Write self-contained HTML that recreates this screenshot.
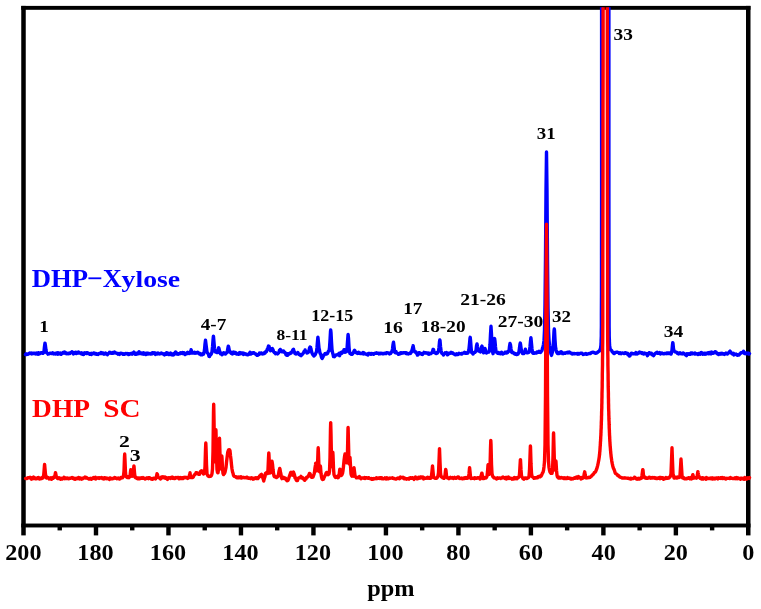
<!DOCTYPE html>
<html><head><meta charset="utf-8"><style>
html,body{margin:0;padding:0;background:#fff;width:761px;height:609px;overflow:hidden}
svg{display:block}
text{font-family:"Liberation Serif",serif;font-weight:bold}
</style></head><body>
<svg width="761" height="609" viewBox="0 0 761 609">
<defs><clipPath id="pa"><rect x="0" y="7.2" width="761" height="530"/></clipPath></defs>
<rect width="761" height="609" fill="#fff"/>
<rect x="21.25" y="5.90" width="729.25" height="3.90" fill="#000"/>
<rect x="21.25" y="523.55" width="729.25" height="3.90" fill="#000"/>
<rect x="21.25" y="5.90" width="4.50" height="529.50" fill="#000"/>
<rect x="746.00" y="5.90" width="4.50" height="529.50" fill="#000"/>
<rect x="57.54" y="525.50" width="4.40" height="4.90" fill="#000"/>
<rect x="93.79" y="525.50" width="4.40" height="9.90" fill="#000"/>
<rect x="130.03" y="525.50" width="4.40" height="4.90" fill="#000"/>
<rect x="166.27" y="525.50" width="4.40" height="9.90" fill="#000"/>
<rect x="202.52" y="525.50" width="4.40" height="4.90" fill="#000"/>
<rect x="238.76" y="525.50" width="4.40" height="9.90" fill="#000"/>
<rect x="275.00" y="525.50" width="4.40" height="4.90" fill="#000"/>
<rect x="311.24" y="525.50" width="4.40" height="9.90" fill="#000"/>
<rect x="347.49" y="525.50" width="4.40" height="4.90" fill="#000"/>
<rect x="383.73" y="525.50" width="4.40" height="9.90" fill="#000"/>
<rect x="419.97" y="525.50" width="4.40" height="4.90" fill="#000"/>
<rect x="456.22" y="525.50" width="4.40" height="9.90" fill="#000"/>
<rect x="492.46" y="525.50" width="4.40" height="4.90" fill="#000"/>
<rect x="528.70" y="525.50" width="4.40" height="9.90" fill="#000"/>
<rect x="564.94" y="525.50" width="4.40" height="4.90" fill="#000"/>
<rect x="601.19" y="525.50" width="4.40" height="9.90" fill="#000"/>
<rect x="637.43" y="525.50" width="4.40" height="4.90" fill="#000"/>
<rect x="673.67" y="525.50" width="4.40" height="9.90" fill="#000"/>
<rect x="709.92" y="525.50" width="4.40" height="4.90" fill="#000"/>
<g clip-path="url(#pa)" fill="none" stroke-linejoin="round" stroke-linecap="round">
<path d="M25.5 354.5L26.0 353.8L26.5 354.5L27.0 354.1L27.5 354.4L28.0 354.2L28.5 353.7L29.0 353.6L29.5 353.1L30.0 353.5L30.5 353.4L31.0 353.0L31.5 353.1L32.0 353.9L32.5 353.2L33.0 353.6L33.5 353.3L34.0 353.1L34.5 353.2L35.0 353.7L35.5 353.9L36.0 354.0L36.5 353.1L37.0 353.3L37.5 353.4L38.0 354.2L38.5 352.7L39.0 354.0L39.5 353.7L40.0 353.6L40.5 352.8L41.0 352.7L41.5 352.7L42.0 352.7L42.5 353.2L43.0 353.4L43.5 352.9L44.0 351.1L44.5 346.5L45.0 343.1L45.5 346.1L46.0 350.1L46.5 352.6L47.0 353.1L47.5 353.3L48.0 354.1L48.5 353.8L49.0 353.9L49.5 353.5L50.0 353.2L50.5 353.1L51.0 353.1L51.5 353.6L52.0 353.4L52.5 352.9L53.0 353.6L53.5 353.2L54.0 353.9L54.5 353.4L55.0 353.4L55.5 354.1L56.0 353.8L56.5 353.0L57.0 353.8L57.5 354.2L58.0 352.8L58.5 354.1L59.0 353.1L59.5 353.2L60.0 353.5L60.5 353.1L61.0 354.3L61.5 354.1L62.0 353.4L62.5 353.3L63.0 352.6L63.5 352.8L64.0 353.2L64.5 352.0L65.0 352.4L65.5 352.6L66.0 353.2L66.5 353.7L67.0 353.3L67.5 353.5L68.0 353.8L68.5 353.3L69.0 353.1L69.5 353.5L70.0 353.5L70.5 352.8L71.0 352.4L71.5 352.5L72.0 351.7L72.5 352.6L73.0 352.4L73.5 353.9L74.0 353.3L74.5 353.1L75.0 353.1L75.5 352.2L76.0 353.4L76.5 353.6L77.0 352.5L77.5 353.0L78.0 353.0L78.5 352.0L79.0 352.9L79.5 353.1L80.0 352.9L80.5 353.0L81.0 353.6L81.5 352.9L82.0 353.7L82.5 354.2L83.0 353.4L83.5 354.5L84.0 353.7L84.5 352.9L85.0 353.5L85.5 353.0L86.0 353.4L86.5 352.7L87.0 353.5L87.5 352.7L88.0 353.3L88.5 353.1L89.0 353.4L89.5 354.2L90.0 353.9L90.5 353.7L91.0 353.4L91.5 354.4L92.0 354.1L92.5 353.5L93.0 353.6L93.5 352.9L94.0 353.0L94.5 353.2L95.0 353.9L95.5 354.0L96.0 353.6L96.5 354.3L97.0 354.4L97.5 354.2L98.0 354.4L98.5 353.7L99.0 353.5L99.5 353.6L100.0 353.3L100.5 353.5L101.0 352.6L101.5 353.5L102.0 352.8L102.5 353.3L103.0 353.0L103.5 354.0L104.0 354.2L104.5 354.1L105.0 354.0L105.5 353.0L106.0 353.5L106.5 353.7L107.0 353.7L107.5 354.7L108.0 353.9L108.5 353.4L109.0 353.2L109.5 352.3L110.0 352.4L110.5 352.5L111.0 353.2L111.5 353.2L112.0 353.3L112.5 353.4L113.0 352.4L113.5 352.7L114.0 352.9L114.5 352.1L115.0 352.3L115.5 352.8L116.0 353.1L116.5 353.4L117.0 353.3L117.5 353.5L118.0 354.1L118.5 353.6L119.0 353.9L119.5 354.4L120.0 353.5L120.5 353.2L121.0 353.2L121.5 353.3L122.0 353.6L122.5 353.8L123.0 354.3L123.5 353.8L124.0 354.0L124.5 354.3L125.0 353.8L125.5 353.5L126.0 353.5L126.5 353.6L127.0 353.9L127.5 353.5L128.0 354.0L128.5 354.5L129.0 353.7L129.5 354.3L130.0 354.0L130.5 353.5L131.0 353.9L131.5 353.7L132.0 354.1L132.5 352.9L133.0 353.5L133.5 352.9L134.0 352.1L134.5 353.6L135.0 354.2L135.5 353.6L136.0 354.3L136.5 353.2L137.0 354.0L137.5 353.2L138.0 353.7L138.5 352.4L139.0 351.7L139.5 352.5L140.0 353.6L140.5 352.8L141.0 353.7L141.5 353.8L142.0 353.5L142.5 353.8L143.0 354.1L143.5 352.8L144.0 353.7L144.5 353.8L145.0 353.3L145.5 354.6L146.0 354.6L146.5 353.2L147.0 354.1L147.5 353.2L148.0 353.2L148.5 353.9L149.0 353.5L149.5 353.6L150.0 354.1L150.5 354.1L151.0 354.0L151.5 353.2L152.0 352.9L152.5 353.8L153.0 352.8L153.5 353.0L154.0 352.7L154.5 353.3L155.0 353.1L155.5 354.5L156.0 353.4L156.5 353.6L157.0 353.5L157.5 353.9L158.0 353.0L158.5 353.6L159.0 353.6L159.5 354.0L160.0 353.8L160.5 353.3L161.0 353.4L161.5 353.0L162.0 353.6L162.5 353.6L163.0 353.7L163.5 354.2L164.0 354.3L164.5 354.9L165.0 353.8L165.5 354.0L166.0 354.3L166.5 352.8L167.0 352.8L167.5 352.9L168.0 353.5L168.5 354.6L169.0 353.9L169.5 354.4L170.0 353.9L170.5 353.1L171.0 353.3L171.5 354.7L172.0 354.5L172.5 354.0L173.0 355.0L173.5 354.0L174.0 354.6L174.5 354.1L175.0 352.7L175.5 352.0L176.0 353.2L176.5 352.8L177.0 354.0L177.5 353.6L178.0 354.3L178.5 354.0L179.0 353.7L179.5 353.4L180.0 353.8L180.5 352.8L181.0 353.4L181.5 353.3L182.0 353.5L182.5 352.6L183.0 353.6L183.5 352.7L184.0 352.7L184.5 354.1L185.0 354.6L185.5 354.2L186.0 353.5L186.5 353.4L187.0 352.7L187.5 352.4L188.0 353.5L188.5 353.2L189.0 353.3L189.5 353.5L190.0 352.8L190.5 351.7L191.0 350.2L191.1 349.7L191.5 350.9L192.0 353.1L192.5 352.9L193.0 352.5L193.5 353.0L194.0 352.5L194.5 352.3L195.0 353.2L195.5 352.8L196.0 352.8L196.5 353.0L197.0 352.7L197.5 352.2L198.0 352.6L198.5 352.8L199.0 353.8L199.5 353.2L200.0 353.5L200.5 354.7L201.0 353.9L201.5 354.8L202.0 354.8L202.5 354.2L203.0 353.6L203.5 354.2L204.0 352.8L204.5 349.8L205.0 344.0L205.5 340.2L206.0 344.1L206.5 348.3L207.0 352.0L207.5 352.8L208.0 353.4L208.5 354.4L209.0 356.3L209.5 356.5L210.0 355.1L210.5 355.2L211.0 354.4L211.5 353.6L212.0 351.6L212.5 346.9L213.0 340.5L213.4 336.1L213.5 336.6L214.0 342.5L214.5 348.4L215.0 351.5L215.5 352.0L216.0 352.1L216.5 352.2L217.0 352.5L217.5 352.6L218.0 350.5L218.5 348.4L218.7 347.8L219.0 348.5L219.5 351.0L220.0 351.7L220.5 353.8L221.0 353.2L221.5 353.7L222.0 354.7L222.3 354.3L222.5 354.2L223.0 353.6L223.5 352.8L224.0 353.4L224.5 353.8L225.0 353.1L225.5 354.1L226.0 352.9L226.5 352.8L227.0 352.6L227.5 350.4L228.0 347.6L228.3 346.1L228.5 346.4L229.0 348.9L229.5 351.3L230.0 352.3L230.5 352.4L231.0 353.2L231.5 352.9L232.0 352.2L232.5 353.9L233.0 352.4L233.5 352.1L234.0 353.2L234.5 353.3L235.0 352.5L235.5 352.5L236.0 353.0L236.5 354.1L237.0 353.8L237.5 353.9L238.0 354.0L238.5 354.3L239.0 353.0L239.5 353.2L240.0 352.6L240.5 353.8L241.0 353.5L241.5 352.9L242.0 352.9L242.5 353.7L243.0 353.0L243.5 354.4L244.0 353.7L244.5 353.5L245.0 353.7L245.5 353.7L246.0 354.3L246.5 354.6L247.0 354.7L247.5 354.5L248.0 354.8L248.5 354.1L249.0 354.3L249.5 353.1L250.0 352.3L250.5 353.1L251.0 354.1L251.5 353.3L252.0 352.9L252.5 353.2L253.0 352.9L253.5 352.7L254.0 352.7L254.5 353.4L255.0 353.9L255.5 354.0L256.0 354.0L256.5 354.8L257.0 355.3L257.5 355.3L258.0 354.7L258.5 354.2L259.0 354.5L259.5 353.0L260.0 353.3L260.5 353.7L261.0 352.9L261.5 353.0L262.0 353.5L262.5 354.0L263.0 353.6L263.5 353.8L264.0 353.4L264.5 352.6L265.0 353.1L265.5 352.2L266.0 351.4L266.5 351.5L267.0 349.9L267.5 348.8L268.0 347.5L268.5 346.1L268.6 346.8L269.0 346.2L269.5 348.2L270.0 349.7L270.5 350.7L271.0 350.4L271.5 349.4L272.0 348.6L272.3 348.5L272.5 349.2L273.0 349.6L273.5 351.5L274.0 352.1L274.5 352.8L275.0 352.8L275.5 353.8L276.0 352.9L276.5 353.5L277.0 353.6L277.5 353.9L278.0 353.5L278.5 352.9L279.0 352.3L279.5 350.2L280.0 350.1L280.3 349.4L280.5 350.1L281.0 350.4L281.5 351.4L282.0 351.7L282.5 351.7L283.0 350.9L283.5 350.9L284.0 352.2L284.5 352.1L285.0 352.3L285.5 353.6L285.8 354.0L286.0 354.7L286.5 355.1L287.0 353.7L287.5 355.3L288.0 354.5L288.5 353.8L289.0 353.4L289.5 353.9L290.0 353.1L290.5 352.9L291.0 353.1L291.5 352.2L292.0 352.1L292.5 350.6L293.0 349.7L293.2 349.6L293.5 349.3L294.0 351.5L294.5 351.9L295.0 353.6L295.5 353.1L296.0 354.0L296.5 353.4L297.0 353.5L297.5 353.0L297.8 352.4L298.0 352.9L298.5 353.7L299.0 354.4L299.5 354.1L300.0 354.4L300.5 355.3L301.0 355.7L301.5 355.1L302.0 354.2L302.5 354.1L303.0 353.5L303.5 352.8L304.0 351.5L304.5 351.1L305.0 350.5L305.1 350.0L305.5 351.1L306.0 351.5L306.5 351.8L307.0 353.0L307.5 352.8L308.0 352.5L308.5 352.0L309.0 350.5L309.5 348.0L310.0 347.1L310.2 347.5L310.5 347.2L311.0 349.3L311.5 351.2L312.0 353.0L312.5 354.1L313.0 354.9L313.5 355.3L313.9 356.1L314.0 355.9L314.5 355.2L315.0 355.0L315.5 354.0L316.0 352.6L316.5 351.8L317.0 347.4L317.5 341.2L317.9 337.1L318.0 337.9L318.5 342.9L319.0 348.2L319.5 350.2L320.0 353.3L320.5 353.6L321.0 355.3L321.5 357.4L322.0 358.1L322.2 358.5L322.5 357.6L323.0 357.1L323.5 355.5L324.0 355.1L324.5 354.5L325.0 353.7L325.5 353.5L326.0 353.6L326.5 354.1L327.0 353.8L327.5 353.5L328.0 352.1L328.5 351.2L329.0 350.9L329.5 347.8L330.0 340.4L330.5 331.5L330.7 330.0L331.0 332.4L331.5 342.2L332.0 349.5L332.5 352.6L333.0 354.2L333.5 356.6L334.0 356.3L334.5 356.7L335.0 355.8L335.5 355.2L336.0 355.1L336.5 354.9L337.0 354.6L337.5 354.8L338.0 354.7L338.5 353.9L339.0 353.4L339.5 355.7L340.0 354.6L340.5 353.7L341.0 352.5L341.5 352.2L342.0 353.3L342.5 351.7L343.0 352.3L343.5 351.7L344.0 349.8L344.2 349.8L344.5 349.8L345.0 352.4L345.5 351.9L346.0 351.8L346.5 351.6L347.0 349.1L347.5 341.8L348.0 335.4L348.1 334.4L348.5 338.1L349.0 347.1L349.5 351.8L350.0 353.6L350.5 353.6L351.0 353.9L351.3 354.0L351.5 354.4L352.0 354.4L352.5 354.0L353.0 352.8L353.5 352.6L354.0 351.1L354.4 350.4L354.5 350.3L355.0 350.9L355.5 351.9L356.0 352.4L356.5 352.8L357.0 352.7L357.5 353.4L358.0 353.1L358.5 352.3L359.0 353.2L359.5 352.8L360.0 353.5L360.5 353.2L361.0 353.3L361.5 353.6L362.0 353.4L362.5 353.2L363.0 352.5L363.5 353.9L364.0 352.7L364.5 353.4L365.0 353.9L365.5 354.0L366.0 354.1L366.5 354.2L367.0 354.5L367.5 354.1L368.0 355.1L368.5 353.4L369.0 353.8L369.5 353.5L370.0 353.5L370.5 353.8L371.0 354.3L371.5 353.4L372.0 353.4L372.5 353.9L373.0 353.8L373.5 354.3L374.0 353.9L374.5 353.4L375.0 353.1L375.5 353.3L376.0 353.2L376.5 352.7L377.0 353.3L377.5 353.3L378.0 353.2L378.5 353.1L379.0 353.9L379.5 353.4L380.0 353.7L380.5 353.2L381.0 353.2L381.5 353.6L382.0 353.7L382.5 353.4L383.0 353.4L383.5 353.8L384.0 353.7L384.5 353.2L385.0 353.6L385.5 353.5L386.0 353.6L386.5 352.7L387.0 352.8L387.5 352.8L388.0 352.9L388.5 352.9L389.0 353.3L389.5 353.9L390.0 353.7L390.5 353.5L391.0 352.7L391.5 351.7L392.0 351.9L392.5 349.0L393.0 344.7L393.4 342.5L393.5 342.2L394.0 346.3L394.5 350.4L395.0 352.5L395.5 352.8L396.0 351.6L396.5 352.8L397.0 353.1L397.5 353.5L398.0 353.4L398.5 354.3L399.0 354.0L399.5 354.1L400.0 353.8L400.5 352.8L401.0 353.5L401.5 353.3L402.0 352.8L402.5 353.1L403.0 353.0L403.5 352.6L404.0 352.7L404.5 352.7L405.0 352.9L405.5 352.7L406.0 353.4L406.5 352.8L407.0 353.8L407.5 353.6L408.0 353.8L408.5 354.0L409.0 353.6L409.5 353.3L410.0 353.1L410.5 353.4L411.0 352.0L411.5 352.2L412.0 350.3L412.5 348.3L413.0 346.1L413.1 345.6L413.5 347.7L414.0 350.6L414.5 351.3L415.0 352.1L415.5 352.0L416.0 352.0L416.5 353.3L417.0 353.6L417.5 355.1L418.0 353.7L418.5 354.2L419.0 352.7L419.5 353.2L420.0 353.0L420.5 353.3L421.0 353.7L421.5 354.1L422.0 354.3L422.5 354.5L423.0 353.6L423.5 353.3L424.0 352.4L424.5 353.0L425.0 353.1L425.5 352.6L426.0 352.8L426.5 352.9L427.0 353.1L427.5 353.5L428.0 353.9L428.5 353.1L429.0 354.2L429.5 353.4L430.0 353.8L430.5 353.5L431.0 353.5L431.5 353.0L432.0 352.5L432.5 351.7L433.0 349.6L433.3 350.5L433.5 349.5L434.0 351.2L434.5 352.6L435.0 353.0L435.5 352.7L436.0 353.5L436.5 353.5L437.0 352.6L437.5 352.9L438.0 351.9L438.5 351.0L439.0 347.4L439.5 341.8L439.8 340.0L440.0 340.4L440.5 346.5L441.0 350.3L441.5 352.4L442.0 353.4L442.5 353.7L443.0 353.8L443.5 355.0L444.0 353.9L444.5 353.5L445.0 352.9L445.5 353.3L446.0 353.1L446.5 352.5L447.0 354.0L447.5 354.8L448.0 354.5L448.5 353.3L449.0 353.3L449.5 353.3L450.0 353.4L450.5 352.9L451.0 352.4L451.5 353.0L452.0 353.2L452.5 352.7L453.0 353.3L453.5 353.8L454.0 353.9L454.5 354.3L455.0 354.6L455.5 354.8L456.0 354.4L456.5 353.8L457.0 354.4L457.5 354.6L458.0 354.6L458.5 353.6L459.0 353.3L459.5 353.7L460.0 353.8L460.5 353.6L461.0 353.9L461.5 353.5L462.0 353.9L462.5 353.1L463.0 353.2L463.5 353.0L464.0 352.9L464.5 352.3L465.0 352.8L465.5 353.3L466.0 353.1L466.5 353.0L467.0 353.3L467.5 353.2L468.0 352.7L468.5 351.0L469.0 349.0L469.5 343.9L470.0 338.2L470.2 337.3L470.5 339.9L471.0 346.3L471.5 352.2L472.0 352.9L472.5 353.4L472.6 353.3L473.0 354.1L473.5 352.6L474.0 352.7L474.5 352.2L475.0 352.2L475.5 351.7L476.0 350.4L476.5 345.9L477.0 343.9L477.5 346.8L478.0 349.3L478.5 351.0L479.0 351.2L479.5 350.7L480.0 351.7L480.5 351.9L481.0 350.0L481.5 346.9L482.0 346.1L482.5 348.2L483.0 351.4L483.5 352.8L484.0 352.2L484.5 351.1L485.0 348.4L485.2 349.3L485.5 349.7L486.0 351.9L486.5 353.0L487.0 352.6L487.5 352.4L488.0 352.2L488.5 351.7L489.0 352.0L489.5 350.5L490.0 344.5L490.5 334.4L491.0 326.3L491.5 334.7L492.0 345.5L492.5 351.2L493.0 353.7L493.1 353.5L493.5 351.0L494.0 344.9L494.5 338.9L494.6 338.6L495.0 341.3L495.5 347.0L496.0 351.5L496.5 351.9L497.0 352.8L497.5 353.1L498.0 353.3L498.5 352.5L499.0 353.5L499.5 353.2L500.0 353.4L500.5 353.7L501.0 353.0L501.5 352.2L502.0 353.6L502.5 354.1L503.0 354.1L503.5 353.4L504.0 353.4L504.5 353.3L505.0 352.2L505.5 352.4L506.0 352.3L506.5 353.0L507.0 352.0L507.5 352.6L508.0 352.0L508.5 351.0L509.0 351.1L509.5 346.5L510.0 343.5L510.1 343.7L510.5 344.9L511.0 348.8L511.5 352.0L512.0 352.5L512.5 352.2L513.0 352.4L513.5 352.7L514.0 353.5L514.5 353.2L515.0 353.8L515.5 354.4L516.0 354.4L516.5 354.5L517.0 354.5L517.5 353.4L518.0 354.1L518.5 353.0L519.0 351.5L519.5 348.1L520.0 344.0L520.3 343.1L520.5 344.1L521.0 347.8L521.5 351.1L522.0 352.5L522.5 353.4L523.0 353.2L523.5 353.2L524.0 353.5L524.5 351.9L525.0 350.7L525.4 349.2L525.5 349.8L526.0 351.2L526.5 352.6L527.0 352.9L527.5 352.9L528.0 352.9L528.5 352.4L529.0 352.3L529.5 350.8L530.0 346.5L530.5 341.1L530.9 337.8L531.0 338.4L531.5 343.7L532.0 348.9L532.5 352.6L533.0 353.3L533.5 353.1L534.0 352.8L534.5 353.2L535.0 352.8L535.5 352.9L536.0 353.0L536.5 353.1L537.0 352.0L537.5 352.4L538.0 352.4L538.5 351.8L539.0 351.3L539.5 352.3L540.0 352.1L540.5 352.5L541.0 351.8L541.5 351.1L542.0 350.5L542.5 348.2L543.0 347.0L543.5 344.3L544.0 340.7L544.5 330.3L545.0 305.1L545.5 258.8L546.0 190.5L546.5 151.9L547.0 191.4L547.5 259.8L548.0 307.6L548.5 330.7L549.0 339.8L549.5 345.2L550.0 348.5L550.5 351.6L551.0 354.2L551.2 354.2L551.5 355.4L552.0 353.6L552.5 351.8L553.0 348.7L553.5 341.4L554.0 331.3L554.3 329.0L554.5 330.3L555.0 339.9L555.5 346.8L556.0 349.6L556.5 351.7L557.0 352.7L557.5 353.4L558.0 353.2L558.5 352.6L559.0 353.5L559.5 352.7L560.0 353.1L560.5 352.0L561.0 352.8L561.5 351.9L562.0 353.0L562.5 353.6L563.0 353.7L563.5 353.1L564.0 353.0L564.5 352.9L565.0 353.3L565.5 353.1L566.0 352.8L566.5 352.6L567.0 352.5L567.5 352.3L568.0 352.9L568.5 352.4L569.0 352.7L569.5 352.1L570.0 352.5L570.5 352.9L571.0 352.9L571.5 353.6L572.0 354.0L572.5 353.5L573.0 353.5L573.5 353.6L574.0 353.8L574.5 353.4L575.0 353.7L575.5 353.6L576.0 353.6L576.5 353.8L577.0 353.5L577.5 353.5L578.0 354.2L578.5 353.5L579.0 354.0L579.5 353.7L580.0 353.4L580.5 353.3L581.0 353.1L581.5 353.3L582.0 353.3L582.5 353.6L583.0 354.4L583.2 354.3L583.8 354.3L584.2 354.2L584.8 354.0L585.2 353.7L585.8 353.4L586.2 354.1L586.8 354.3L587.2 354.0L587.8 353.9L588.2 353.9L588.8 353.7L589.2 353.4L589.8 353.5L590.2 353.6L590.8 353.1L591.2 352.6L591.8 352.5L592.2 352.5L592.8 352.3L593.2 352.1L593.8 352.5L594.2 352.7L594.8 352.8L595.2 353.3L595.8 353.3L596.2 353.2L596.8 353.0L597.2 352.6L597.8 352.1L598.2 351.6L598.8 351.5L599.2 351.2L599.2 351.2L599.3 351.1L599.4 351.0L599.4 350.9L599.5 350.8L599.5 350.7L599.6 350.6L599.7 350.5L599.7 350.4L599.8 350.2L599.8 350.1L599.9 349.9L600.0 349.8L600.0 349.6L600.1 349.5L600.1 349.4L600.2 349.3L600.3 349.2L600.3 349.0L600.4 348.8L600.4 348.6L600.5 348.4L600.6 348.1L600.6 347.8L600.7 347.4L600.7 346.9L600.8 346.4L600.9 345.9L600.9 345.2L601.0 344.4L601.0 343.4L601.1 342.2L601.1 340.6L601.2 338.7L601.3 336.0L601.3 332.1L601.4 326.0L601.4 315.4L601.5 291.6L601.6 190.1L601.6 -20.0L601.7 -20.0L601.7 -20.0L601.8 -20.0L601.9 -20.0L601.9 -20.0L602.0 -20.0L602.0 -20.0L602.1 -20.0L602.2 -20.0L602.2 -20.0L602.3 -20.0L602.3 -20.0L602.4 -20.0L602.5 -20.0L602.5 -20.0L602.6 -20.0L602.6 -20.0L602.7 -20.0L602.8 -20.0L602.8 -20.0L602.8 -20.0L602.9 -20.0L602.9 -20.0L603.0 -20.0L603.1 -20.0L603.1 -20.0L603.2 -20.0L603.3 -20.0L603.3 -20.0L603.4 -20.0L603.5 -20.0L603.5 -20.0L603.6 -20.0L603.6 -20.0L603.7 -20.0L603.8 -20.0L603.8 -20.0L603.9 -20.0L604.0 -20.0L604.0 -20.0L604.1 -20.0L604.2 -20.0L604.2 -20.0L604.3 -20.0L604.4 -20.0L604.4 -20.0L604.5 -20.0L604.5 -20.0L604.6 -20.0L604.7 -20.0L604.7 -20.0L604.8 -20.0L604.9 -20.0L604.9 -20.0L605.0 -20.0L605.1 -20.0L605.1 -20.0L605.2 -20.0L605.2 -20.0L605.2 -20.0L605.3 -20.0L605.4 -20.0L605.4 -20.0L605.5 -20.0L605.6 -20.0L605.6 -20.0L605.7 -20.0L605.8 -20.0L605.8 -20.0L605.9 -20.0L606.0 -20.0L606.0 -20.0L606.1 -20.0L606.1 -20.0L606.2 -20.0L606.3 -20.0L606.3 -20.0L606.4 -20.0L606.5 -20.0L606.5 -20.0L606.6 -20.0L606.7 -20.0L606.7 -20.0L606.8 -20.0L606.9 -20.0L606.9 -20.0L607.0 -20.0L607.0 -20.0L607.1 -20.0L607.2 -20.0L607.2 -20.0L607.3 -20.0L607.4 -20.0L607.4 -20.0L607.5 -20.0L607.6 -20.0L607.6 -20.0L607.7 -20.0L607.8 -20.0L607.8 -20.0L607.8 -20.0L607.9 -20.0L607.9 -20.0L608.0 -20.0L608.0 -20.0L608.1 -20.0L608.2 -20.0L608.2 -20.0L608.3 -20.0L608.3 -20.0L608.4 -20.0L608.5 -20.0L608.5 -20.0L608.6 -20.0L608.6 -20.0L608.7 -20.0L608.8 -20.0L608.8 -20.0L608.9 -20.0L608.9 189.7L609.0 291.3L609.1 315.1L609.1 325.7L609.2 331.7L609.2 335.5L609.3 338.2L609.4 340.1L609.4 341.6L609.5 342.8L609.5 343.8L609.6 344.6L609.6 345.3L609.7 345.9L609.8 346.4L609.8 346.9L609.9 347.3L609.9 347.7L610.0 348.0L610.1 348.3L610.1 348.5L610.2 348.8L610.2 349.0L610.3 349.2L610.4 349.4L610.4 349.6L610.5 349.7L610.5 349.8L610.6 349.9L610.7 349.9L610.7 350.0L610.8 350.0L610.8 350.0L610.9 350.0L611.0 350.0L611.0 350.0L611.1 350.1L611.1 350.1L611.2 350.1L611.2 350.1L611.2 350.1L611.8 350.8L612.2 351.7L612.8 352.2L613.2 352.8L613.8 353.5L614.2 353.5L614.8 353.1L615.2 352.5L615.8 352.4L616.2 352.3L616.8 352.1L617.2 352.1L617.8 352.4L618.2 352.6L618.8 352.7L619.2 353.5L619.8 353.0L620.2 352.8L620.8 353.5L621.2 353.7L621.8 353.2L622.2 352.9L622.8 353.1L623.2 353.1L623.8 353.1L624.2 353.5L624.8 353.4L625.2 352.8L625.8 352.7L626.2 353.2L626.8 353.6L627.2 353.5L627.5 353.3L628.0 354.8L628.5 354.3L629.0 355.2L629.5 356.0L630.0 355.7L630.5 354.1L631.0 353.5L631.5 353.1L632.0 353.1L632.5 353.6L633.0 353.8L633.5 353.8L634.0 353.8L634.5 353.8L635.0 353.3L635.5 353.9L636.0 352.5L636.5 353.1L637.0 354.1L637.5 353.8L638.0 353.0L638.5 353.1L639.0 353.0L639.5 352.1L640.0 352.7L640.5 352.4L641.0 352.6L641.5 352.7L642.0 353.4L642.5 352.8L643.0 353.3L643.5 354.0L644.0 353.2L644.5 353.0L645.0 353.7L645.5 353.4L646.0 353.6L646.5 354.0L647.0 353.9L647.5 355.7L648.0 353.7L648.5 353.6L649.0 352.8L649.5 352.8L650.0 353.8L650.5 353.3L651.0 353.7L651.5 353.4L652.0 354.7L652.5 354.5L653.0 354.4L653.5 355.7L654.0 354.6L654.5 354.4L655.0 353.6L655.5 353.1L656.0 353.0L656.5 352.5L657.0 352.3L657.5 353.3L658.0 353.0L658.5 353.3L659.0 353.1L659.5 352.6L660.0 352.9L660.5 354.0L661.0 353.1L661.5 353.3L662.0 353.0L662.5 353.5L663.0 353.7L663.5 353.9L664.0 353.8L664.5 353.5L665.0 353.4L665.5 353.5L666.0 353.5L666.5 353.1L667.0 353.7L667.5 352.9L668.0 353.1L668.5 352.9L669.0 353.6L669.5 352.9L670.0 353.0L670.5 353.4L671.0 354.1L671.5 352.6L672.0 350.2L672.5 344.7L672.8 342.6L673.0 343.7L673.5 348.8L674.0 350.7L674.5 351.4L675.0 351.9L675.5 351.8L676.0 352.2L676.5 352.2L677.0 352.8L677.5 353.4L678.0 353.6L678.5 353.9L679.0 352.9L679.5 353.3L680.0 352.9L680.5 353.6L681.0 353.2L681.5 353.5L682.0 353.9L682.5 353.2L683.0 353.8L683.5 353.1L684.0 353.7L684.5 354.0L685.0 354.2L685.5 354.8L686.0 355.0L686.5 355.6L687.0 353.7L687.5 354.2L688.0 354.0L688.5 353.7L689.0 354.2L689.5 353.7L690.0 353.9L690.5 354.3L691.0 352.9L691.5 353.7L692.0 353.7L692.5 353.1L693.0 353.7L693.5 353.6L694.0 353.4L694.5 354.0L695.0 353.1L695.5 353.9L696.0 353.7L696.5 353.6L697.0 354.1L697.5 354.2L698.0 354.5L698.5 353.5L699.0 353.9L699.5 353.6L700.0 354.3L700.5 353.1L701.0 353.8L701.5 352.5L702.0 353.6L702.5 353.7L703.0 354.2L703.5 354.0L704.0 353.3L704.5 353.3L705.0 354.3L705.5 353.7L706.0 353.2L706.5 353.9L707.0 353.2L707.5 353.1L708.0 352.8L708.5 353.6L709.0 353.8L709.5 352.6L710.0 353.1L710.5 353.4L711.0 353.9L711.5 352.1L712.0 353.1L712.5 353.3L713.0 352.5L713.5 353.2L714.0 352.8L714.5 352.6L715.0 351.8L715.5 351.8L716.0 352.0L716.5 353.1L717.0 353.6L717.5 354.0L718.0 353.5L718.5 354.6L719.0 354.3L719.5 354.2L720.0 353.4L720.5 353.4L721.0 354.1L721.5 353.6L722.0 353.2L722.5 353.7L723.0 354.0L723.5 354.1L724.0 353.7L724.5 354.4L725.0 354.1L725.5 353.7L726.0 353.1L726.5 353.5L727.0 353.7L727.5 354.0L728.0 353.1L728.5 353.2L729.0 352.4L729.5 351.6L730.0 351.1L730.5 352.1L731.0 352.4L731.5 353.3L732.0 353.6L732.5 354.1L733.0 353.7L733.5 353.3L734.0 354.9L734.5 354.3L735.0 354.2L735.5 354.4L736.0 354.0L736.5 354.8L737.0 354.8L737.5 355.3L738.0 355.0L738.5 354.9L739.0 355.0L739.5 354.3L740.0 353.8L740.5 353.5L741.0 352.6L741.5 352.7L742.0 352.4L742.5 352.6L743.0 352.2L743.5 351.3L744.0 352.5L744.5 353.5L745.0 352.7L745.5 353.5L746.0 353.8L746.5 353.1L747.0 353.4L747.5 353.5L748.0 353.1L748.5 353.9L749.0 354.1L749.5 353.6" stroke="#0000ff" stroke-width="3.4"/>
<path d="M25.5 478.4L26.0 478.4L26.5 478.6L27.0 478.6L27.5 477.8L28.0 477.7L28.5 477.9L29.0 477.8L29.5 477.7L30.0 477.3L30.5 477.9L31.0 478.5L31.5 479.2L32.0 477.7L32.5 478.7L33.0 477.7L33.5 477.1L34.0 478.4L34.5 477.7L35.0 477.8L35.5 478.8L36.0 478.9L36.5 478.5L37.0 478.2L37.5 477.8L38.0 478.5L38.5 477.5L39.0 477.9L39.5 478.9L40.0 478.7L40.5 478.9L41.0 478.5L41.5 477.9L42.0 478.4L42.5 477.3L43.0 477.9L43.5 477.1L44.0 471.7L44.5 465.2L44.6 464.5L45.0 468.8L45.5 474.4L46.0 477.1L46.5 478.0L47.0 477.1L47.5 477.7L48.0 477.8L48.5 477.7L49.0 478.9L49.5 478.6L50.0 478.5L50.5 478.7L51.0 477.9L51.5 479.3L52.0 477.8L52.5 477.6L53.0 478.3L53.5 478.1L54.0 477.4L54.5 476.8L55.0 475.3L55.5 472.6L56.0 475.1L56.5 477.5L57.0 477.5L57.5 478.4L58.0 478.0L58.5 478.4L59.0 477.7L59.5 478.4L60.0 478.3L60.5 479.2L61.0 478.2L61.5 479.0L62.0 478.6L62.5 478.9L63.0 478.3L63.5 478.4L64.0 477.3L64.5 477.7L65.0 478.6L65.5 478.3L66.0 478.5L66.5 478.0L67.0 478.4L67.5 478.0L68.0 478.1L68.5 478.7L69.0 478.7L69.5 478.1L70.0 478.2L70.5 478.2L71.0 477.9L71.5 477.8L72.0 477.6L72.5 478.3L73.0 477.8L73.5 477.9L74.0 478.9L74.5 479.2L75.0 479.3L75.5 478.8L76.0 478.3L76.5 478.7L77.0 478.8L77.5 478.1L78.0 478.0L78.5 477.5L79.0 477.6L79.5 479.0L80.0 477.9L80.5 478.4L81.0 478.8L81.5 479.2L82.0 478.3L82.5 478.8L83.0 478.5L83.5 478.0L84.0 477.7L84.5 477.7L85.0 477.1L85.5 478.1L86.0 477.7L86.5 477.4L87.0 478.1L87.5 478.4L88.0 478.5L88.5 478.7L89.0 479.1L89.5 478.6L90.0 478.9L90.5 479.0L91.0 478.3L91.5 479.3L92.0 478.5L92.5 478.5L93.0 478.3L93.5 477.6L94.0 478.4L94.5 478.6L95.0 478.4L95.5 477.3L96.0 478.9L96.5 478.3L97.0 478.1L97.5 478.0L98.0 477.8L98.5 478.0L99.0 478.4L99.5 477.7L100.0 478.1L100.5 477.7L101.0 477.7L101.5 477.5L102.0 478.0L102.5 478.5L103.0 478.3L103.5 478.9L104.0 479.0L104.5 477.7L105.0 478.5L105.5 477.9L106.0 478.0L106.5 478.6L107.0 478.2L107.5 478.1L108.0 478.8L108.5 478.7L109.0 478.5L109.5 479.4L110.0 478.0L110.5 477.9L111.0 478.6L111.5 478.4L112.0 478.9L112.5 478.5L113.0 478.4L113.5 478.6L114.0 478.1L114.5 477.5L115.0 477.8L115.5 478.2L116.0 478.0L116.5 478.4L117.0 478.7L117.5 478.5L118.0 478.2L118.5 478.0L119.0 478.6L119.5 479.1L120.0 478.8L120.5 478.4L121.0 477.5L121.5 477.8L122.0 477.8L122.5 477.9L123.0 476.6L123.5 475.9L124.0 471.1L124.5 457.1L124.7 454.0L125.0 460.3L125.5 472.8L126.0 476.9L126.5 476.9L127.0 477.4L127.5 476.4L128.0 477.4L128.5 477.1L129.0 477.6L129.5 477.0L130.0 476.1L130.5 471.6L130.8 469.7L131.0 471.0L131.5 475.0L132.0 476.3L132.5 476.2L133.0 475.6L133.5 470.2L133.9 466.0L134.0 466.1L134.5 472.6L135.0 477.1L135.5 477.7L136.0 477.4L136.5 477.6L137.0 478.5L137.5 478.7L138.0 478.1L138.5 478.0L139.0 478.7L139.5 478.1L140.0 478.6L140.5 477.9L141.0 478.0L141.5 477.7L142.0 478.3L142.5 478.1L143.0 477.6L143.5 478.3L144.0 478.1L144.5 478.3L145.0 479.0L145.5 478.9L146.0 478.6L146.5 478.2L147.0 477.8L147.5 478.0L148.0 478.0L148.5 478.6L149.0 477.6L149.5 477.7L150.0 478.1L150.5 478.4L151.0 478.9L151.5 479.1L152.0 478.5L152.5 479.3L153.0 478.8L153.5 478.2L154.0 478.2L154.5 478.5L155.0 478.6L155.5 479.0L156.0 477.8L156.5 476.4L157.0 473.7L157.1 474.0L157.5 474.6L158.0 477.4L158.5 477.5L159.0 477.8L159.5 478.1L160.0 478.1L160.5 479.0L161.0 477.5L161.5 476.9L162.0 477.1L162.5 477.8L163.0 476.8L163.5 477.5L164.0 477.2L164.5 477.8L165.0 477.0L165.5 478.3L166.0 478.4L166.5 477.7L167.0 478.8L167.5 479.4L168.0 478.3L168.5 477.8L169.0 477.8L169.5 477.8L170.0 478.2L170.5 478.4L171.0 477.4L171.5 477.4L172.0 477.1L172.5 477.7L173.0 478.3L173.5 477.6L174.0 478.6L174.5 478.6L175.0 478.6L175.5 477.8L176.0 477.4L176.5 477.9L177.0 477.7L177.5 477.4L178.0 477.8L178.5 477.5L179.0 478.8L179.5 478.3L180.0 478.4L180.5 477.6L181.0 478.6L181.5 478.0L182.0 478.5L182.5 477.8L183.0 478.5L183.5 477.6L184.0 478.0L184.5 477.8L185.0 477.2L185.5 477.5L186.0 477.4L186.5 477.5L187.0 478.1L187.5 478.4L188.0 477.6L188.5 478.0L189.0 477.2L189.5 475.0L189.9 473.9L190.0 472.8L190.5 476.4L191.0 477.5L191.5 477.6L192.0 477.5L192.5 477.6L193.0 477.3L193.5 476.5L194.0 475.4L194.5 474.7L195.0 474.6L195.5 474.1L196.0 472.7L196.5 472.9L197.0 472.8L197.5 473.2L198.0 473.2L198.5 474.4L199.0 474.4L199.5 474.3L200.0 473.0L200.5 471.4L201.0 471.1L201.5 470.8L202.0 470.9L202.5 471.4L203.0 473.1L203.5 474.0L204.0 473.6L204.5 473.0L205.0 466.7L205.5 450.1L205.8 443.0L206.0 447.1L206.5 464.6L207.0 473.9L207.5 475.1L208.0 476.0L208.5 475.8L209.0 476.5L209.5 476.4L210.0 476.4L210.5 476.3L211.0 476.0L211.5 475.4L212.0 473.6L212.5 469.0L213.0 451.8L213.5 412.1L213.7 404.3L214.0 419.5L214.5 454.4L215.0 461.8L215.5 443.2L215.9 429.8L216.0 432.2L216.5 455.5L217.0 469.7L217.5 472.4L218.0 472.8L218.5 469.6L219.0 455.0L219.5 438.3L220.0 454.3L220.5 468.5L221.0 468.9L221.5 459.9L221.8 456.0L222.0 457.9L222.5 468.5L223.0 473.4L223.5 474.6L224.0 473.8L224.5 473.5L225.0 472.1L225.5 469.8L226.0 467.4L226.5 462.4L227.0 458.1L227.5 454.3L227.7 452.7L228.0 451.3L228.5 450.1L229.0 451.0L229.5 449.8L230.0 450.8L230.5 455.7L231.0 459.7L231.5 464.8L232.0 469.0L232.5 471.7L233.0 473.2L233.5 475.3L234.0 476.1L234.5 476.6L235.0 476.6L235.5 476.6L236.0 476.8L236.5 477.7L237.0 477.8L237.5 477.5L238.0 477.7L238.5 477.1L239.0 477.8L239.5 477.1L240.0 477.6L240.5 477.6L241.0 476.7L241.5 478.1L242.0 477.8L242.5 477.4L243.0 477.3L243.5 477.5L244.0 477.4L244.5 477.7L245.0 477.6L245.5 477.7L246.0 477.7L246.5 477.1L247.0 477.2L247.5 478.1L248.0 478.2L248.5 478.3L249.0 477.9L249.5 478.3L250.0 478.2L250.5 478.6L251.0 477.9L251.5 477.6L252.0 477.9L252.5 478.5L253.0 479.1L253.5 478.4L254.0 478.9L254.5 478.2L255.0 478.1L255.5 477.8L256.0 478.4L256.5 477.9L257.0 478.4L257.5 477.8L258.0 478.5L258.5 477.6L259.0 477.2L259.5 476.1L260.0 476.4L260.5 475.3L261.0 474.6L261.4 474.5L261.5 474.4L262.0 475.3L262.5 477.2L263.0 478.5L263.5 480.0L263.7 481.0L264.0 479.7L264.5 478.1L265.0 476.4L265.5 473.4L266.0 473.0L266.5 472.6L267.0 473.0L267.5 473.5L268.0 469.6L268.5 458.2L268.8 452.9L269.0 455.7L269.5 467.3L270.0 473.0L270.5 472.8L271.0 469.2L271.5 464.0L272.0 461.2L272.5 464.2L273.0 469.3L273.5 473.4L274.0 476.0L274.5 476.7L275.0 476.2L275.5 476.9L276.0 477.2L276.5 477.6L277.0 477.1L277.5 476.9L278.0 476.4L278.5 474.5L279.0 471.3L279.5 469.6L279.7 468.5L280.0 469.2L280.5 472.4L281.0 474.4L281.5 477.7L282.0 478.6L282.5 477.9L283.0 477.9L283.5 477.3L284.0 478.4L284.5 478.0L285.0 478.0L285.5 478.3L286.0 479.4L286.5 480.1L287.0 480.7L287.2 480.6L287.5 479.9L288.0 480.4L288.5 479.2L289.0 477.6L289.5 476.1L290.0 474.5L290.5 473.2L290.9 472.3L291.0 472.2L291.5 473.6L292.0 474.2L292.5 475.1L293.0 473.5L293.5 472.1L293.6 472.6L294.0 473.4L294.5 475.0L295.0 477.9L295.5 477.8L296.0 479.6L296.5 480.4L296.9 480.2L297.0 480.5L297.5 480.5L298.0 478.8L298.5 478.1L299.0 477.9L299.5 477.7L300.0 477.7L300.5 477.2L301.0 476.4L301.5 477.5L302.0 477.8L302.5 478.4L303.0 477.9L303.5 478.5L304.0 479.5L304.5 480.1L304.7 480.3L305.0 479.7L305.5 479.1L306.0 478.9L306.5 477.3L307.0 477.1L307.5 477.0L308.0 476.7L308.5 475.6L309.0 474.9L309.5 473.4L309.7 473.5L310.0 473.8L310.5 474.8L311.0 475.6L311.5 477.1L312.0 477.3L312.5 476.8L313.0 477.0L313.5 475.7L314.0 474.2L314.5 472.3L315.0 468.0L315.5 464.9L315.7 463.2L316.0 464.4L316.5 468.6L317.0 470.8L317.5 465.8L318.0 451.4L318.2 447.8L318.5 453.8L319.0 468.9L319.5 471.7L320.0 467.5L320.3 465.9L320.5 466.8L321.0 473.6L321.5 476.9L322.0 478.7L322.5 479.4L322.6 479.6L323.0 479.3L323.5 479.2L324.0 477.6L324.5 476.7L325.0 475.5L325.5 475.0L326.0 473.3L326.5 472.6L327.0 472.4L327.5 473.5L328.0 474.7L328.5 473.7L329.0 474.0L329.5 471.3L330.0 457.8L330.5 428.5L330.7 422.6L331.0 433.7L331.5 460.4L332.0 466.7L332.5 456.3L332.8 452.2L333.0 454.8L333.5 468.6L334.0 474.6L334.5 475.8L335.0 476.9L335.5 477.5L336.0 476.8L336.5 477.2L337.0 477.1L337.5 476.2L338.0 477.7L338.5 477.2L339.0 475.7L339.5 471.6L339.8 469.2L340.0 469.3L340.5 474.1L341.0 475.6L341.5 475.3L342.0 474.5L342.5 473.4L343.0 470.6L343.5 466.2L344.0 460.8L344.5 456.9L345.0 454.0L345.5 455.3L346.0 459.0L346.5 462.9L347.0 462.9L347.5 451.8L348.0 428.8L348.1 427.5L348.5 443.1L349.0 463.5L349.5 464.1L350.0 457.4L350.5 465.9L351.0 473.7L351.5 475.5L352.0 476.2L352.5 475.8L353.0 476.1L353.5 472.0L354.0 467.6L354.5 471.7L355.0 475.8L355.5 476.8L356.0 477.0L356.5 477.9L357.0 477.9L357.5 477.6L358.0 477.4L358.5 477.4L359.0 477.7L359.5 476.5L360.0 477.8L360.5 477.7L361.0 478.7L361.5 478.1L362.0 477.9L362.5 478.1L363.0 477.9L363.5 477.9L364.0 478.2L364.5 477.5L365.0 478.4L365.5 477.8L366.0 477.9L366.5 477.7L367.0 478.1L367.5 478.2L368.0 478.3L368.5 477.7L369.0 477.9L369.5 478.2L370.0 478.3L370.5 478.8L371.0 478.7L371.5 478.5L372.0 479.3L372.5 478.9L373.0 479.3L373.5 478.6L374.0 478.9L374.5 478.8L375.0 478.7L375.5 478.2L376.0 478.6L376.5 477.7L377.0 478.2L377.5 478.5L378.0 478.3L378.5 478.1L379.0 477.9L379.5 478.4L380.0 477.8L380.5 477.8L381.0 477.8L381.5 478.6L382.0 477.9L382.5 478.7L383.0 478.9L383.5 478.8L384.0 478.5L384.5 478.6L385.0 477.9L385.5 478.4L386.0 479.0L386.5 478.9L387.0 477.7L387.5 478.3L388.0 478.2L388.5 478.7L389.0 478.4L389.5 478.3L390.0 478.0L390.5 478.2L391.0 478.1L391.5 478.1L392.0 478.0L392.5 477.7L393.0 478.4L393.5 478.5L394.0 478.5L394.5 478.5L395.0 478.9L395.5 478.9L396.0 479.1L396.5 478.6L397.0 478.6L397.5 478.2L398.0 477.9L398.5 477.9L399.0 478.7L399.5 478.7L400.0 478.5L400.5 477.1L401.0 477.6L401.5 477.5L402.0 477.4L402.5 477.7L403.0 477.3L403.5 478.1L404.0 478.8L404.5 478.0L405.0 478.8L405.5 478.5L406.0 478.8L406.5 479.2L407.0 478.6L407.5 478.7L408.0 478.8L408.5 478.6L409.0 479.1L409.5 477.9L410.0 478.5L410.5 477.7L411.0 477.8L411.5 478.3L412.0 477.7L412.5 477.9L413.0 478.5L413.5 478.1L414.0 479.4L414.5 478.0L415.0 478.1L415.5 477.1L416.0 478.2L416.5 478.2L417.0 478.7L417.5 478.7L418.0 478.2L418.5 477.4L419.0 478.2L419.5 477.4L420.0 477.1L420.5 478.0L421.0 477.1L421.5 477.7L422.0 477.1L422.5 477.7L423.0 477.1L423.5 478.9L424.0 478.2L424.5 478.0L425.0 478.1L425.5 478.3L426.0 478.4L426.5 478.1L427.0 477.6L427.5 478.1L428.0 477.4L428.5 478.0L429.0 478.3L429.5 477.7L430.0 478.1L430.5 477.5L431.0 478.2L431.5 475.7L432.0 471.3L432.5 466.0L433.0 471.5L433.5 476.7L434.0 477.6L434.5 478.0L435.0 478.1L435.5 478.3L436.0 478.4L436.5 477.7L437.0 478.0L437.5 477.0L438.0 475.8L438.5 472.9L439.0 461.4L439.5 448.6L440.0 461.7L440.5 473.0L441.0 476.4L441.5 477.0L442.0 477.0L442.5 477.7L443.0 477.6L443.5 478.1L444.0 478.3L444.5 477.4L445.0 475.5L445.5 470.8L445.7 469.4L446.0 470.7L446.5 475.8L447.0 477.1L447.5 478.1L448.0 477.9L448.5 478.0L449.0 478.6L449.5 478.1L450.0 478.0L450.5 477.3L451.0 477.9L451.5 477.9L452.0 478.1L452.5 477.6L453.0 478.3L453.5 478.6L454.0 477.9L454.5 477.4L455.0 478.0L455.5 477.9L456.0 478.3L456.5 477.8L457.0 477.4L457.5 477.1L458.0 477.8L458.5 477.0L459.0 477.6L459.5 478.5L460.0 478.3L460.5 478.4L461.0 478.5L461.5 478.1L462.0 478.5L462.5 478.8L463.0 478.8L463.5 478.1L464.0 478.5L464.5 478.6L465.0 477.9L465.2 478.3L465.5 477.8L466.0 477.5L466.5 478.2L467.0 478.2L467.5 478.2L468.0 478.0L468.5 477.6L469.0 474.0L469.5 468.4L469.6 467.8L470.0 471.4L470.5 476.8L471.0 478.5L471.5 478.3L472.0 478.3L472.5 478.1L473.0 478.3L473.5 478.1L474.0 478.0L474.5 478.6L475.0 477.8L475.5 478.3L476.0 478.3L476.5 478.4L477.0 478.0L477.5 477.7L478.0 478.1L478.5 477.8L479.0 478.2L479.5 478.1L480.0 479.1L480.5 476.9L481.0 476.3L481.5 474.6L481.8 473.1L482.0 473.2L482.5 476.7L483.0 478.5L483.5 478.1L484.0 478.5L484.5 477.6L485.0 477.8L485.5 478.1L486.0 477.9L486.5 477.2L487.0 476.2L487.5 472.0L488.0 465.0L488.1 464.7L488.5 468.6L489.0 474.3L489.5 473.7L490.0 467.7L490.5 448.8L490.8 440.4L491.0 443.9L491.5 464.3L492.0 473.8L492.5 475.7L493.0 477.0L493.5 477.2L494.0 477.8L494.5 477.8L495.0 478.1L495.5 478.4L496.0 478.3L496.5 479.0L497.0 478.4L497.5 477.8L498.0 478.2L498.5 478.2L499.0 477.9L499.5 478.1L500.0 478.1L500.5 478.5L501.0 478.0L501.5 477.7L502.0 477.9L502.5 477.3L503.0 477.0L503.5 477.6L504.0 477.8L504.5 477.7L505.0 478.4L505.5 477.5L506.0 477.5L506.5 478.9L507.0 477.6L507.5 478.6L508.0 478.2L508.5 477.1L509.0 478.4L509.5 477.8L510.0 478.2L510.5 478.2L511.0 478.3L511.5 478.6L512.0 479.2L512.5 478.5L513.0 478.4L513.5 479.0L514.0 478.8L514.5 477.6L515.0 478.8L515.5 478.4L516.0 478.3L516.5 477.7L517.0 478.8L517.5 478.1L518.0 477.6L518.5 477.4L519.0 477.0L519.5 474.4L520.0 466.0L520.4 459.7L520.5 459.8L521.0 469.7L521.5 476.0L522.0 476.9L522.5 477.7L523.0 478.6L523.5 478.5L524.0 479.1L524.5 478.0L525.0 478.2L525.5 478.0L526.0 477.9L526.5 478.5L527.0 478.5L527.5 477.9L528.0 477.5L528.5 477.7L529.0 476.5L529.5 470.5L530.0 456.9L530.4 445.9L530.5 446.9L531.0 463.7L531.5 473.3L532.0 476.5L532.5 476.8L533.0 477.2L533.5 477.5L534.0 478.3L534.5 477.7L535.0 477.9L535.5 477.7L536.0 478.0L536.5 477.4L537.0 477.3L537.5 477.8L538.0 477.3L538.5 476.5L539.0 476.6L539.5 476.8L540.0 476.8L540.5 475.9L541.0 476.3L541.5 475.2L542.0 474.3L542.5 472.9L543.0 472.4L543.5 470.4L544.0 466.7L544.5 461.7L545.0 444.9L545.5 395.7L546.0 296.5L546.5 224.1L547.0 295.6L547.5 395.1L548.0 444.3L548.5 461.2L549.0 467.5L549.5 470.1L550.0 472.0L550.5 472.7L551.0 473.3L551.5 473.3L552.0 473.4L552.5 470.8L553.0 456.5L553.5 433.7L553.6 433.0L554.0 447.3L554.5 466.6L555.0 470.1L555.5 465.3L555.9 461.0L556.0 461.7L556.5 470.2L557.0 475.2L557.5 477.1L558.0 477.1L558.5 478.1L559.0 477.6L559.5 477.2L560.0 478.0L560.5 478.0L561.0 477.7L561.5 477.5L562.0 477.8L562.5 478.1L563.0 477.9L563.5 478.4L564.0 477.9L564.5 478.4L565.0 477.9L565.5 478.5L566.0 478.6L566.5 478.2L567.0 478.5L567.5 477.6L568.0 478.2L568.5 478.1L569.0 478.4L569.5 478.1L570.0 478.6L570.5 479.0L571.0 478.3L571.5 478.7L572.0 479.0L572.5 478.8L573.0 478.8L573.5 478.3L574.0 478.4L574.5 477.7L575.0 478.3L575.5 478.0L576.0 478.0L576.5 477.0L577.0 478.1L577.5 478.2L578.0 477.7L578.5 476.5L578.6 476.9L579.0 476.9L579.5 477.4L580.0 478.0L580.5 477.9L581.0 479.0L581.5 477.5L582.0 478.5L582.5 478.1L583.0 478.1L583.2 478.1L583.7 477.0L584.2 474.0L584.7 471.8L585.2 474.7L585.7 477.2L586.2 477.9L586.7 477.7L587.2 477.8L587.7 477.8L588.2 477.5L588.7 477.3L589.2 477.4L589.7 477.5L590.2 477.3L590.7 476.6L591.2 476.3L591.7 475.9L592.2 475.1L592.7 474.9L593.2 474.2L593.7 473.7L594.2 472.8L594.7 472.3L595.2 472.1L595.7 471.5L596.2 470.2L596.7 468.9L597.2 467.2L597.7 465.4L598.2 463.0L598.7 460.4L599.2 457.2L599.2 457.2L599.3 456.8L599.3 456.3L599.4 455.9L599.4 455.4L599.5 455.0L599.6 454.4L599.6 453.8L599.7 453.1L599.7 452.5L599.8 451.8L599.9 451.1L599.9 450.4L600.0 449.6L600.0 448.9L600.1 448.0L600.1 447.2L600.2 446.3L600.3 445.4L600.3 444.5L600.4 443.5L600.4 442.5L600.5 441.5L600.6 440.5L600.6 439.5L600.7 438.4L600.7 437.3L600.8 436.1L600.9 434.9L600.9 433.6L601.0 432.3L601.0 430.9L601.1 429.4L601.2 427.8L601.2 426.2L601.3 424.5L601.3 422.7L601.4 420.8L601.5 418.9L601.5 416.9L601.6 414.8L601.6 412.6L601.7 410.3L601.8 407.9L601.8 405.4L601.9 402.7L601.9 399.9L602.0 396.9L602.0 393.7L602.1 390.3L602.2 386.7L602.2 382.8L602.3 378.7L602.3 374.4L602.4 369.8L602.5 364.9L602.5 359.7L602.6 354.1L602.6 348.1L602.7 341.7L602.7 341.7L602.8 321.9L602.8 270.6L602.9 219.3L603.0 168.0L603.0 116.7L603.1 65.5L603.1 14.2L603.2 -20.0L603.3 -20.0L603.3 -20.0L603.4 -20.0L603.5 -20.0L603.5 -20.0L603.6 -20.0L603.7 -20.0L603.7 -20.0L603.8 -20.0L603.9 -20.0L603.9 -20.0L604.0 -20.0L604.0 -20.0L604.1 -20.0L604.2 -20.0L604.2 -20.0L604.3 -20.0L604.4 -20.0L604.4 -20.0L604.5 -20.0L604.6 -20.0L604.6 -20.0L604.7 -20.0L604.8 -20.0L604.8 -20.0L604.9 -20.0L604.9 -20.0L605.0 -20.0L605.1 -20.0L605.1 -20.0L605.2 -20.0L605.2 -20.0L605.3 -20.0L605.3 -20.0L605.4 -20.0L605.5 -20.0L605.5 -20.0L605.6 -20.0L605.6 -20.0L605.7 -20.0L605.8 -20.0L605.8 -20.0L605.9 -20.0L606.0 -20.0L606.0 -20.0L606.1 -20.0L606.2 -20.0L606.2 -20.0L606.3 -20.0L606.4 -20.0L606.4 -20.0L606.5 -20.0L606.5 -20.0L606.6 -20.0L606.7 -20.0L606.7 -20.0L606.8 -20.0L606.9 -20.0L606.9 -20.0L607.0 -20.0L607.1 -20.0L607.1 -20.0L607.2 -20.0L607.3 14.1L607.3 65.3L607.4 116.6L607.4 167.8L607.5 219.1L607.6 270.4L607.6 321.7L607.7 341.6L607.7 341.6L607.8 348.0L607.8 354.0L607.9 359.6L607.9 364.8L608.0 369.8L608.1 374.3L608.1 378.6L608.2 382.6L608.2 386.4L608.3 390.0L608.4 393.4L608.4 396.6L608.5 399.6L608.5 402.4L608.6 405.1L608.6 407.7L608.7 410.1L608.8 412.4L608.8 414.6L608.9 416.7L608.9 418.7L609.0 420.6L609.1 422.4L609.1 424.2L609.2 425.9L609.2 427.5L609.3 429.1L609.4 430.6L609.4 432.0L609.5 433.4L609.5 434.7L609.6 436.0L609.7 437.3L609.7 438.5L609.8 439.6L609.8 440.7L609.9 441.8L610.0 442.8L610.0 443.8L610.1 444.6L610.1 445.4L610.2 446.2L610.3 446.9L610.3 447.6L610.4 448.3L610.4 449.0L610.5 449.6L610.5 450.3L610.6 451.0L610.7 451.7L610.7 452.3L610.8 453.0L610.8 453.6L610.9 454.2L611.0 454.8L611.0 455.3L611.1 455.9L611.1 456.4L611.2 456.9L611.2 456.9L611.7 460.6L612.2 463.4L612.7 465.7L613.2 467.6L613.7 468.8L614.2 469.9L614.7 471.3L615.2 473.0L615.7 473.6L616.2 473.9L616.7 474.2L617.2 474.6L617.7 475.6L618.2 475.4L618.7 475.7L619.2 476.5L619.7 476.9L620.2 477.1L620.7 477.3L621.2 477.5L621.7 477.7L622.2 478.0L622.7 477.9L623.2 478.1L623.7 477.9L624.2 478.0L624.7 478.1L625.2 477.9L625.7 478.1L626.2 478.1L626.7 478.1L627.2 478.2L627.5 478.3L628.0 478.1L628.5 478.3L629.0 478.6L629.5 478.7L630.0 478.5L630.5 479.0L631.0 478.2L631.5 478.9L632.0 478.6L632.5 478.6L633.0 478.6L633.5 478.2L634.0 477.9L634.5 478.0L634.6 477.3L635.0 477.4L635.5 478.2L636.0 478.6L636.5 479.1L637.0 479.2L637.5 478.5L638.0 478.9L638.5 479.1L639.0 478.3L639.5 479.0L640.0 478.6L640.5 478.3L641.0 478.5L641.5 478.1L642.0 475.3L642.5 471.4L642.8 469.6L643.0 470.1L643.5 475.4L644.0 477.3L644.5 477.6L645.0 478.0L645.5 477.3L646.0 478.3L646.5 478.3L647.0 478.2L647.5 478.3L648.0 477.9L648.5 477.8L649.0 477.3L649.5 477.3L650.0 477.5L650.5 478.1L651.0 477.6L651.5 478.0L652.0 478.0L652.5 477.5L653.0 477.8L653.5 477.8L654.0 477.6L654.5 478.2L655.0 478.3L655.5 477.7L656.0 478.5L656.5 478.5L657.0 478.0L657.5 478.4L658.0 477.9L658.5 478.3L659.0 478.4L659.5 477.5L660.0 478.7L660.5 477.4L661.0 478.1L661.5 477.8L662.0 478.3L662.5 477.7L663.0 477.9L663.5 479.3L664.0 478.8L664.5 478.5L665.0 478.0L665.5 478.5L666.0 477.6L666.5 477.9L667.0 478.4L667.5 478.4L668.0 477.8L668.5 478.1L669.0 477.9L669.5 476.9L670.0 477.1L670.5 476.1L671.0 473.5L671.5 460.6L672.0 447.8L672.5 461.2L673.0 474.0L673.5 475.6L674.0 478.0L674.5 477.6L675.0 478.0L675.5 477.3L676.0 477.5L676.5 477.9L677.0 478.1L677.5 477.0L678.0 477.7L678.5 477.6L679.0 477.5L679.5 477.3L680.0 475.2L680.5 467.7L681.0 459.0L681.5 467.3L682.0 475.3L682.5 477.8L683.0 477.7L683.5 478.2L684.0 477.7L684.5 478.8L685.0 478.6L685.5 478.9L686.0 478.9L686.5 478.8L687.0 478.4L687.5 478.2L688.0 478.2L688.5 477.7L689.0 477.9L689.5 478.0L690.0 478.8L690.5 477.8L691.0 478.5L691.5 478.9L692.0 478.0L692.5 475.6L692.8 474.7L693.0 475.2L693.5 477.2L694.0 478.1L694.5 477.8L695.0 477.9L695.5 477.7L696.0 477.5L696.5 478.2L697.0 477.6L697.5 474.1L697.9 471.6L698.0 472.3L698.5 474.6L699.0 476.4L699.5 477.3L700.0 478.3L700.5 477.7L701.0 478.1L701.5 479.0L702.0 477.9L702.5 477.7L703.0 479.1L703.5 478.7L704.0 478.1L704.5 478.5L705.0 478.7L705.5 478.3L706.0 479.3L706.5 477.6L707.0 478.8L707.5 478.2L708.0 478.3L708.5 478.5L709.0 478.3L709.5 478.6L710.0 478.4L710.5 478.0L711.0 478.7L711.5 477.9L712.0 478.0L712.5 479.1L713.0 478.1L713.5 478.9L714.0 478.8L714.5 478.4L715.0 479.0L715.5 478.2L716.0 478.0L716.5 478.0L717.0 478.0L717.5 478.2L718.0 478.9L718.5 477.8L719.0 478.1L719.5 478.2L720.0 478.3L720.5 477.9L721.0 478.5L721.5 477.7L722.0 477.5L722.5 478.6L723.0 478.5L723.5 478.0L724.0 477.7L724.5 478.2L725.0 478.6L725.5 479.0L726.0 479.0L726.5 478.3L727.0 478.4L727.5 478.3L728.0 478.4L728.5 478.3L729.0 478.3L729.5 478.5L730.0 478.5L730.5 477.6L731.0 478.1L731.5 478.4L732.0 478.3L732.5 478.5L733.0 478.5L733.5 478.5L734.0 478.6L734.5 478.2L735.0 477.7L735.5 478.6L736.0 478.3L736.5 477.6L737.0 478.7L737.5 478.7L738.0 477.9L738.5 478.6L739.0 478.5L739.5 478.7L740.0 478.3L740.5 479.3L741.0 478.2L741.5 478.2L742.0 478.4L742.5 478.5L743.0 478.3L743.5 479.1L744.0 478.0L744.5 479.2L745.0 477.6L745.5 478.2L746.0 478.8L746.5 479.1L747.0 478.2L747.5 477.8L748.0 478.0L748.5 478.0L749.0 478.4L749.5 477.6" stroke="#ff0000" stroke-width="3.4"/>
</g>
<g opacity="0.999">
<text transform="translate(5.28 559.87) scale(1.0750 1)" font-size="22.52" fill="#000">200</text>
<text transform="translate(77.32 559.87) scale(1.0750 1)" font-size="22.52" fill="#000">180</text>
<text transform="translate(149.80 559.87) scale(1.0750 1)" font-size="22.52" fill="#000">160</text>
<text transform="translate(222.29 559.87) scale(1.0750 1)" font-size="22.52" fill="#000">140</text>
<text transform="translate(294.77 559.87) scale(1.0750 1)" font-size="22.52" fill="#000">120</text>
<text transform="translate(367.26 559.87) scale(1.0750 1)" font-size="22.52" fill="#000">100</text>
<text transform="translate(446.37 559.87) scale(1.0750 1)" font-size="22.52" fill="#000">80</text>
<text transform="translate(518.83 559.87) scale(1.0750 1)" font-size="22.52" fill="#000">60</text>
<text transform="translate(591.59 559.87) scale(1.0750 1)" font-size="22.52" fill="#000">40</text>
<text transform="translate(663.71 559.87) scale(1.0750 1)" font-size="22.52" fill="#000">20</text>
<text transform="translate(742.31 559.87) scale(1.0750 1)" font-size="22.52" fill="#000">0</text>
<text transform="translate(367.30 595.59) scale(1.0127 1)" font-size="24.03" fill="#000">ppm</text>
<text transform="translate(31.73 287.14) scale(1.0569 1)" font-size="25.25" fill="#0000ff">DHP</text>
<rect x="88.4" y="277.4" width="12.9" height="1.8" fill="#0000ff"/>
<text transform="translate(102.84 287.20) scale(1.0370 1)" font-size="25.34" fill="#0000ff">X</text>
<text transform="translate(121.52 286.64) scale(1.2050 1)" font-size="23.08" fill="#0000ff">ylose</text>
<text transform="translate(32.12 416.94) scale(1.0856 1)" font-size="25.25" fill="#ff0000">DHP</text>
<text transform="translate(103.27 416.75) scale(1.1827 1)" font-size="24.68" fill="#ff0000">SC</text>
<text transform="translate(39.35 332.40) scale(1.1592 1)" font-size="16.67" fill="#000">1</text>
<text transform="translate(200.76 329.90) scale(1.1552 1)" font-size="16.58" fill="#000">4-7</text>
<text transform="translate(276.43 339.65) scale(1.1805 1)" font-size="14.81" fill="#000">8-11</text>
<text transform="translate(311.36 321.24) scale(1.1189 1)" font-size="16.06" fill="#000">12-15</text>
<text transform="translate(383.13 332.54) scale(1.2021 1)" font-size="16.36" fill="#000">16</text>
<text transform="translate(403.26 314.40) scale(1.1531 1)" font-size="16.67" fill="#000">17</text>
<text transform="translate(420.45 332.04) scale(1.1778 1)" font-size="16.44" fill="#000">18-20</text>
<text transform="translate(460.17 304.64) scale(1.2094 1)" font-size="16.21" fill="#000">21-26</text>
<text transform="translate(497.67 326.94) scale(1.2097 1)" font-size="16.15" fill="#000">27-30</text>
<text transform="translate(536.79 138.73) scale(1.1451 1)" font-size="16.51" fill="#000">31</text>
<text transform="translate(551.99 322.33) scale(1.1524 1)" font-size="16.51" fill="#000">32</text>
<text transform="translate(613.58 39.93) scale(1.1693 1)" font-size="16.51" fill="#000">33</text>
<text transform="translate(663.77 336.54) scale(1.1904 1)" font-size="16.36" fill="#000">34</text>
<text transform="translate(119.08 446.60) scale(1.2386 1)" font-size="17.51" fill="#000">2</text>
<text transform="translate(129.68 460.53) scale(1.2504 1)" font-size="17.40" fill="#000">3</text>
</g>
</svg>
</body></html>
